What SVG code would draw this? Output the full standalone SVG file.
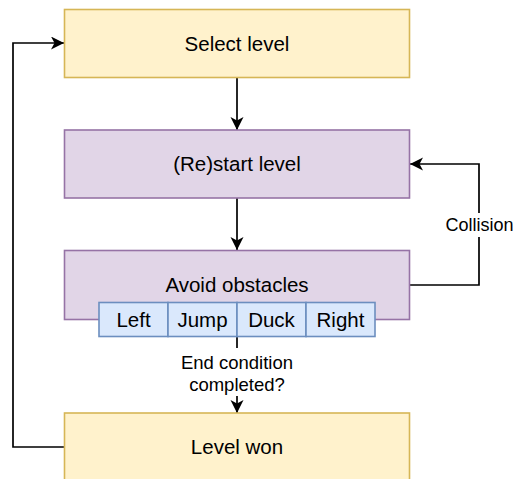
<svg xmlns="http://www.w3.org/2000/svg" width="515" height="479" viewBox="0 0 515 479">
<style>
.yel{fill:#fff2cc;stroke:#d6b656;stroke-width:1.6}
.pur{fill:#e1d5e7;stroke:#9673a6;stroke-width:1.6}
.blu{fill:#dae8fc;stroke:#6c8ebf;stroke-width:1.6}
.t{font-family:"Liberation Sans",Arial,sans-serif;font-size:20.5px;fill:#000;text-anchor:middle}
.lbl{font-family:"Liberation Sans",Arial,sans-serif;font-size:18.5px;fill:#000;text-anchor:middle}
.c{fill:none;stroke:#000;stroke-width:1.7}
</style>
<defs>
<marker id="arr" markerUnits="userSpaceOnUse" markerWidth="14" markerHeight="14" viewBox="0 0 14 14" refX="13" refY="6.5" orient="auto">
<path d="M0,0 L13,6.5 L0,13 L3.5,6.5 Z" fill="#000"/>
</marker>
</defs>
<rect width="515" height="479" fill="#fff"/>
<g id="connectors">
<path class="c" d="M237,78 V130" marker-end="url(#arr)"/>
<path class="c" d="M237,198 V250" marker-end="url(#arr)"/>
<path class="c" d="M237,337 V413" marker-end="url(#arr)"/>
<path class="c" d="M410,285 H479 V164 H410" marker-end="url(#arr)"/>
<path class="c" d="M64,447 H13 V43 H64" marker-end="url(#arr)"/>
<rect x="176" y="348" width="122" height="48" fill="#fff"/>
<text class="lbl" x="237" y="369">End condition</text>
<text class="lbl" x="237" y="391">completed?</text>
<rect x="445" y="213" width="70" height="24" fill="#fff"/>
<text class="lbl" x="479.5" y="231" style="font-size:18px">Collision</text>
</g>
<g id="select-level">
<rect class="yel" x="64.5" y="9.5" width="345" height="68"/>
<text class="t" x="237" y="51">Select level</text>
</g>
<g id="restart-level">
<rect class="pur" x="64.5" y="130" width="345" height="68"/>
<text class="t" x="237" y="171">(Re)start level</text>
</g>
<g id="avoid-obstacles">
<rect class="pur" x="64.5" y="250.5" width="345" height="69"/>
<text class="t" x="237" y="292">Avoid obstacles</text>
</g>
<g id="left"><rect class="blu" x="99" y="302.5" width="69" height="34"/><text class="t" x="133.5" y="327">Left</text></g>
<g id="jump"><rect class="blu" x="168" y="302.5" width="69" height="34"/><text class="t" x="202.5" y="327">Jump</text></g>
<g id="duck"><rect class="blu" x="237" y="302.5" width="69" height="34"/><text class="t" x="271.5" y="327">Duck</text></g>
<g id="right"><rect class="blu" x="306" y="302.5" width="69" height="34"/><text class="t" x="340.5" y="327">Right</text></g>
<g id="level-won">
<rect class="yel" x="64.5" y="413" width="345" height="68"/>
<text class="t" x="237" y="454">Level won</text>
</g>
</svg>
